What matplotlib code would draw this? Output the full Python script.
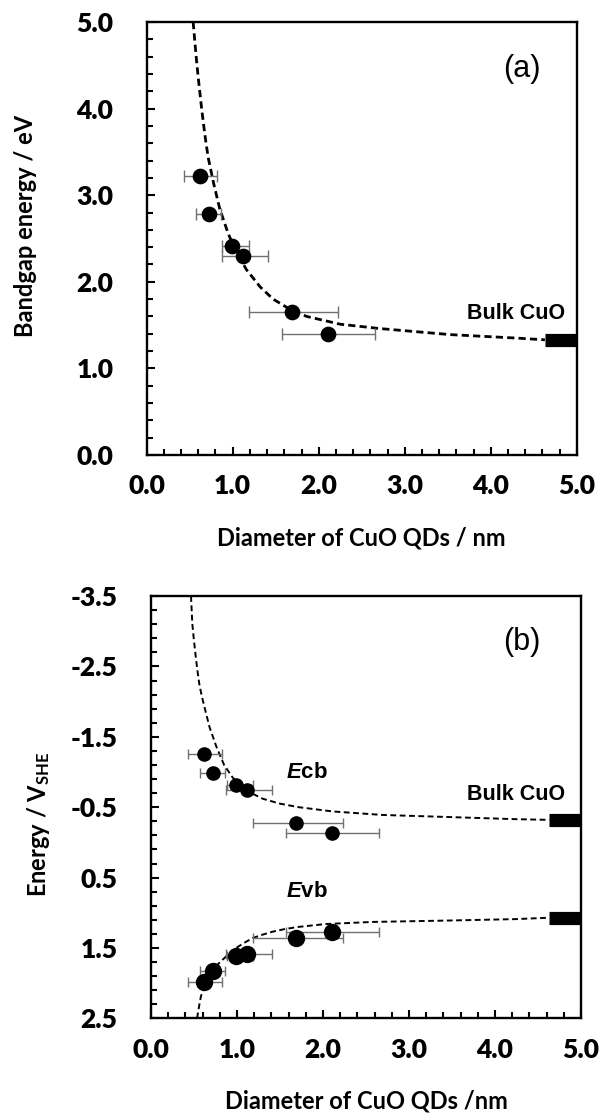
import numpy as np
import matplotlib
matplotlib.use('Agg')
import matplotlib.pyplot as plt
from matplotlib.ticker import FixedLocator, FormatStrFormatter

plt.rcParams['font.family'] = ['Lato', 'DejaVu Sans']
plt.rcParams['axes.unicode_minus'] = False
plt.rcParams['mathtext.fontset'] = 'custom'
plt.rcParams['mathtext.rm'] = 'Lato:bold'
plt.rcParams['mathtext.bf'] = 'Lato:bold'
plt.rcParams['mathtext.it'] = 'Liberation Sans:italic:bold'

# CuO QD diameters (nm) with size spread (lower / upper)
diam = [0.62, 0.72, 0.99, 1.12, 1.69, 2.11]
diam_lo = [0.19, 0.15, 0.11, 0.25, 0.50, 0.54]
diam_hi = [0.20, 0.14, 0.20, 0.29, 0.54, 0.54]

# measured band gap (eV) and band edges (V vs SHE)
gap = [3.22, 2.78, 2.41, 2.30, 1.65, 1.40]
ecb = [-1.26, -0.98, -0.82, -0.75, -0.28, -0.14]
evb = [1.98, 1.83, 1.62, 1.58, 1.36, 1.27]

# dashed model curves
fit_gap_d = [0.54, 0.56, 0.58, 0.60, 0.62, 0.64, 0.666, 0.69, 0.716, 0.75, 0.78, 0.85, 0.95, 1.05, 1.16,
             1.32, 1.47, 1.67, 1.86, 2.25, 2.71, 3.53, 4.30, 4.63]
fit_gap_e = [5.00, 4.77, 4.55, 4.35, 4.17, 3.99, 3.78, 3.60, 3.43, 3.27, 3.13, 2.84, 2.55, 2.33, 2.14,
             1.94, 1.80, 1.68, 1.60, 1.51, 1.46, 1.39, 1.35, 1.33]

fit_cb_d = [0.465, 0.48, 0.50, 0.52, 0.54, 0.56, 0.59, 0.62, 0.68, 0.76, 0.85, 0.95, 1.05, 1.15, 1.30,
            1.50, 1.72, 2.11, 2.69, 3.47, 4.24, 4.63]
fit_cb_e = [-3.50, -3.11, -2.86, -2.64, -2.44, -2.26, -2.08, -1.93, -1.64, -1.36, -1.10, -0.92, -0.80,
            -0.71, -0.62, -0.55, -0.50, -0.44, -0.39, -0.36, -0.33, -0.32]

fit_vb_d = [0.535, 0.56, 0.58, 0.61, 0.64, 0.68, 0.716, 0.77, 0.83, 0.91, 0.99, 1.08, 1.18, 1.30, 1.41,
            1.56, 1.72, 2.03, 2.58, 3.47, 4.24, 4.63]
fit_vb_e = [2.50, 2.32, 2.19, 2.07, 1.98, 1.88, 1.81, 1.74, 1.67, 1.58, 1.50, 1.43, 1.36, 1.31, 1.27,
            1.23, 1.20, 1.16, 1.13, 1.11, 1.09, 1.07]

# bulk CuO reference
bulk_d = [4.63, 5.0]
bulk_gap = 1.33
bulk_ecb = -0.32
bulk_evb = 1.07

gap_ticks = [0.0, 1.0, 2.0, 3.0, 4.0, 5.0]
e_ticks = [-3.5, -2.5, -1.5, -0.5, 0.5, 1.5, 2.5]
d_ticks = [0.0, 1.0, 2.0, 3.0, 4.0, 5.0]

fig = plt.figure(figsize=(5.99, 11.16), dpi=100)
ax1 = fig.add_axes([0.2449, 0.5923, 0.7179, 0.3880])
ax2 = fig.add_axes([0.2521, 0.0875, 0.7179, 0.3784])


def style_axes(ax):
    for s in ax.spines.values():
        s.set_linewidth(1.7)
    ax.tick_params(which='both', direction='in', top=False, right=False, width=1.5,
                   labelsize=19)
    ax.tick_params(which='major', length=6)
    ax.tick_params(which='minor', length=4.2)
    ax.tick_params(axis='y', pad=24)
    ax.tick_params(axis='x', pad=14)
    for lab in ax.get_xticklabels() + ax.get_yticklabels():
        lab.set_fontweight('heavy')
    ax.xaxis.set_major_formatter(FormatStrFormatter('%.1f'))
    ax.yaxis.set_major_formatter(FormatStrFormatter('%.1f'))


# (a) band gap vs size
ax1.plot(fit_gap_d, fit_gap_e, color='k', lw=2.0, ls=(0, (2.6, 1.5)), zorder=2)
ax1.errorbar(diam, gap, xerr=[diam_lo, diam_hi], fmt='o', color='k', ms=10.3,
             ecolor='#707070', elinewidth=1.0, capsize=4.5, capthick=1.0, zorder=3)
ax1.plot(bulk_d, [bulk_gap, bulk_gap], color='k', lw=9.5, solid_capstyle='butt', zorder=4)
ax1.text(4.86, 1.63, 'Bulk CuO', family='Liberation Sans', fontweight='bold', fontsize=15.5,
         ha='right', va='center')
ax1.text(4.36, 4.46, '(a)', family='Liberation Sans', fontsize=22, ha='center', va='center')
ax1.set_xlim(0, 5)
ax1.set_ylim(0, 5)
ax1.xaxis.set_major_locator(FixedLocator(d_ticks))
ax1.xaxis.set_minor_locator(FixedLocator(np.arange(0, 5.01, 0.2)))
ax1.yaxis.set_major_locator(FixedLocator(gap_ticks))
ax1.yaxis.set_minor_locator(FixedLocator(np.arange(0, 5.01, 0.2)))
style_axes(ax1)
ax1.set_xlabel('Diameter of CuO QDs / nm', fontsize=17, fontweight='bold', labelpad=20)
ax1.set_ylabel('Bandgap energy / eV', fontsize=17, fontweight='bold')
ax1.yaxis.set_label_coords(-0.255, 0.53)

# (b) band edge positions vs size
ax2.plot(fit_cb_d, fit_cb_e, color='k', lw=1.4, ls=(0, (3, 1.8)), zorder=2)
ax2.plot(fit_vb_d, fit_vb_e, color='k', lw=1.4, ls=(0, (3, 1.8)), zorder=2)
ax2.errorbar(diam, ecb, xerr=[diam_lo, diam_hi], fmt='o', color='k', ms=9.5,
             ecolor='#707070', elinewidth=1.0, capsize=3.6, capthick=1.0, zorder=3)
ax2.errorbar(diam, evb, xerr=[diam_lo, diam_hi], fmt='o', color='k', ms=11.5,
             ecolor='#707070', elinewidth=1.0, capsize=3.6, capthick=1.0, zorder=3)
ax2.plot(bulk_d, [bulk_ecb, bulk_ecb], color='k', lw=9.5, solid_capstyle='butt', zorder=4)
ax2.plot(bulk_d, [bulk_evb, bulk_evb], color='k', lw=9.5, solid_capstyle='butt', zorder=4)
ax2.text(4.81, -0.68, 'Bulk CuO', family='Liberation Sans', fontweight='bold', fontsize=15.5,
         ha='right', va='center')
ax2.text(1.81, -1.0, r'$\mathit{E}$cb', family='Liberation Sans', fontweight='bold', fontsize=16,
         ha='center', va='center')
ax2.text(1.81, 0.70, r'$\mathit{E}$vb', family='Liberation Sans', fontweight='bold', fontsize=16,
         ha='center', va='center')
ax2.text(4.31, -2.85, '(b)', family='Liberation Sans', fontsize=22, ha='center', va='center')
ax2.set_xlim(0, 5)
ax2.set_ylim(2.5, -3.5)
ax2.xaxis.set_major_locator(FixedLocator(d_ticks))
ax2.xaxis.set_minor_locator(FixedLocator(np.arange(0, 5.01, 0.2)))
ax2.yaxis.set_major_locator(FixedLocator(e_ticks))
ax2.yaxis.set_minor_locator(FixedLocator(np.arange(-3.5, 2.51, 0.2)))
style_axes(ax2)
ax2.set_xlabel('Diameter of CuO QDs /nm', fontsize=17, fontweight='bold', labelpad=20)
ax2.set_ylabel(r'Energy / V$_{\mathrm{SHE}}$', fontsize=17, fontweight='bold')
ax2.yaxis.set_label_coords(-0.23, 0.46)

fig.savefig('out.png', dpi=100)
